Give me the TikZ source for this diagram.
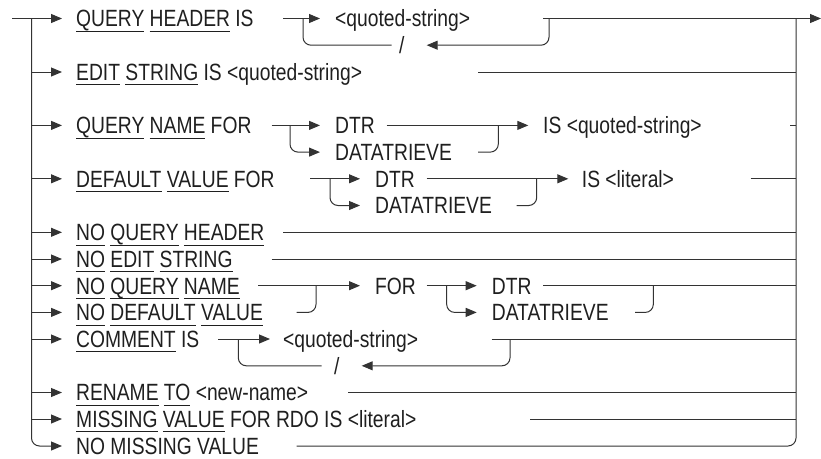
\documentclass[tikz,border=0pt]{standalone}
\usepackage{fontspec}
\setmainfont{Liberation Sans}[FakeStretch=0.82]
\usetikzlibrary{arrows.meta}
\newcommand\ulw[1]{\setbox0\hbox{#1}\rlap{\rule[-4.9pt]{\wd0}{0.9pt}}\box0\relax}
\definecolor{ln}{gray}{0.2}
\definecolor{tx}{gray}{0.12}
\begin{document}
\begin{tikzpicture}[x=1pt,y=-1pt,
  line/.style={draw=ln,line width=1pt},
  arr/.style={line,-{Triangle[length=11pt,width=9pt]}},
  rc/.style={rounded corners=8pt},
  txt/.style={inner sep=0pt,anchor=base west,font=\fontsize{23.5}{28}\selectfont,text=tx},
  slash/.style={txt,anchor=base}]
\useasboundingbox (0,0) rectangle (821,458);
\def\bo{8.3}
\def\RA{18.5}\def\RAb{45.2}\def\RB{72}\def\RC{125.4}\def\RCb{152.1}
\def\RD{178.8}\def\RDb{205.5}\def\RE{232.3}\def\RF{259}\def\RG{285.7}
\def\RH{312.4}\def\RI{339}\def\RIb{365.8}\def\RJ{392.5}\def\RK{419}\def\RL{446}
% trunks
\coordinate (in) at (12,\RA);
\coordinate (tl) at (31.5,\RA);
\coordinate (tr) at (796,\RA);
\coordinate (out) at (821,\RA);
% texts
\node[txt] (qh) at (76,\RA+\bo) {\ulw{QUERY} \ulw{HEADER} IS};
\node[txt] (qs1) at (335,\RA+\bo) {<quoted-string>};
\node[slash] (sl1) at (401.7,\RAb+\bo) {/};
\node[txt] (es) at (76,\RB+\bo) {\ulw{EDIT} \ulw{STRING} IS <quoted-string>};
\node[txt] (qn) at (76,\RC+\bo) {\ulw{QUERY} \ulw{NAME} FOR};
\node[txt] (dtr1) at (335,\RC+\bo) {DTR};
\node[txt] (dat1) at (335,\RCb+\bo) {DATATRIEVE};
\node[txt] (isq) at (543,\RC+\bo) {IS <quoted-string>};
\node[txt] (dv) at (76,\RD+\bo) {\ulw{DEFAULT} \ulw{VALUE} FOR};
\node[txt] (dtr2) at (375,\RD+\bo) {DTR};
\node[txt] (dat2) at (375,\RDb+\bo) {DATATRIEVE};
\node[txt] (isl) at (581.7,\RD+\bo) {IS <literal>};
\node[txt] (nqh) at (76,\RE+\bo) {\ulw{NO} \ulw{QUERY} \ulw{HEADER}};
\node[txt] (nes) at (76,\RF+\bo) {\ulw{NO} \ulw{EDIT} \ulw{STRING}};
\node[txt] (nqn) at (76,\RG+\bo) {\ulw{NO} \ulw{QUERY} \ulw{NAME}};
\node[txt] (ndv) at (76,\RH+\bo) {\ulw{NO} \ulw{DEFAULT} \ulw{VALUE}};
\node[txt] (for) at (375,\RG+\bo) {FOR};
\node[txt] (dtr3) at (491.7,\RG+\bo) {DTR};
\node[txt] (dat3) at (491.7,\RH+\bo) {DATATRIEVE};
\node[txt] (com) at (76,\RI+\bo) {\ulw{COMMENT} IS};
\node[txt] (qs2) at (283,\RI+\bo) {<quoted-string>};
\node[slash] (sl2) at (336.7,\RIb+\bo) {/};
\node[txt] (ren) at (76,\RJ+\bo) {\ulw{RENAME} \ulw{TO} <new-name>};
\node[txt] (mis) at (76,\RK+\bo) {\ulw{MISSING} \ulw{VALUE} FOR RDO IS <literal>};
\node[txt] (nmv) at (76,\RL+\bo) {NO MISSING VALUE};
% left trunk
\draw[arr] (in) -- (62,\RA);
\draw[arr,rc] (tl) |- (62,\RL);
\foreach \r in {\RB,\RC,\RD,\RE,\RF,\RG,\RH,\RI,\RJ,\RK}
  \draw[arr] (31.5,\r) -- (62,\r);
% right trunk and exit
\draw[line,rc] (tr) |- (296.7,\RL);
\draw[arr] (543,\RA) -- (out);
% row 1
\draw[arr] (283,\RA) -- (320,\RA);
\draw[line,rc] (303,\RA) |- (391.7,\RAb);
\draw[arr,rc] (549,\RA) |- (426.7,\RAb);
% row 2
\draw[line] (478,\RB) -- (796,\RB);
% row 3
\draw[arr] (271.7,\RC) -- (320,\RC);
\draw[arr,rc] (290,\RC) |- (320,\RCb);
\draw[arr] (386.7,\RC) -- (528.3,\RC);
\draw[line,rc] (478,\RCb) -| (498.3,\RC);
\draw[line] (790,\RC) -- (796,\RC);
% row 4
\draw[arr] (310,\RD) -- (360,\RD);
\draw[arr,rc] (330,\RD) |- (360,\RDb);
\draw[arr] (426.7,\RD) -- (568.3,\RD);
\draw[line,rc] (516.7,\RDb) -| (536.7,\RD);
\draw[line] (750.7,\RD) -- (796,\RD);
% rows 5,6
\draw[line] (283,\RE) -- (796,\RE);
\draw[line] (271.7,\RF) -- (796,\RF);
% rows 7,8
\draw[arr] (258.3,\RG) -- (360,\RG);
\draw[line,rc] (296.7,\RH) -| (316,\RG);
\draw[arr] (426.7,\RG) -- (476.7,\RG);
\draw[arr,rc] (446.7,\RG) |- (476.7,\RH);
\draw[line] (543.3,\RG) -- (796,\RG);
\draw[line,rc] (635,\RH) -| (653.3,\RG);
% row 9
\draw[arr] (218.3,\RI) -- (270,\RI);
\draw[line,rc] (238.3,\RI) |- (321.7,\RIb);
\draw[arr,rc] (510,\RI) |- (361.7,\RIb);
\draw[line] (491.7,\RI) -- (796,\RI);
% rows 10,11
\draw[line] (348.3,\RJ) -- (796,\RJ);
\draw[line] (530,\RK) -- (796,\RK);
\end{tikzpicture}
\end{document}
